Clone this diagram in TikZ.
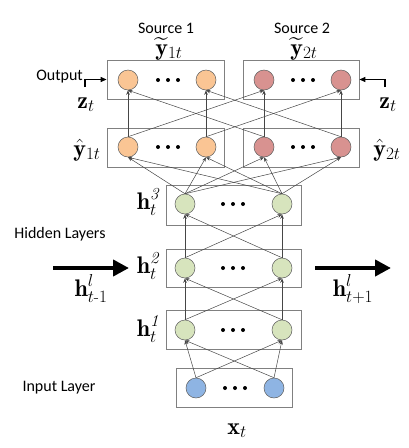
\documentclass[tikz,border=0pt]{standalone}
\usepackage{amsmath}
\usepackage{fontspec}
\newfontfamily\carl{Carlito}
\usetikzlibrary{arrows.meta}
\definecolor{boxgray}{RGB}{128,128,128}
\definecolor{cgray}{RGB}{95,95,95}
\definecolor{lgray}{RGB}{70,70,70}
\definecolor{corange}{RGB}{250,197,148}
\definecolor{cred}{RGB}{216,146,144}
\definecolor{cgreen}{RGB}{215,228,189}
\definecolor{cblue}{RGB}{142,180,227}
\begin{document}
\begin{tikzpicture}[x=1pt,y=-1pt,
  lbox/.style={draw=boxgray, line width=0.8pt, inner sep=0pt},
  neuron/.style={circle, draw=cgray, line width=0.5pt, minimum size=20pt, inner sep=0pt},
  orn/.style={neuron, fill=corange},
  rdn/.style={neuron, fill=cred},
  grn/.style={neuron, fill=cgreen},
  bln/.style={neuron, fill=cblue},
  conn/.style={draw=lgray, line width=0.5pt, -{Stealth[length=4.5pt,width=3.5pt]}},
  lab/.style={font=\carl\fontsize{16}{19}\selectfont, inner sep=0pt},
  mlab/.style={font=\fontsize{24}{28}\selectfont, inner sep=0pt},
  bigarrow/.style={line width=4pt, -{Triangle[length=16pt,width=16pt]}},
  elbow/.style={line width=1.1pt, -{Triangle[length=6pt,width=5pt]}},
  dot/.style={fill=black}]
\useasboundingbox (0,0) rectangle (408,448);

% boxes
\node[lbox, minimum width=117pt, minimum height=39pt] (B1) at (165.5,79.5) {};
\node[lbox, minimum width=116pt, minimum height=39pt] (B2) at (301,79.5) {};
\node[lbox, minimum width=117pt, minimum height=39pt] (C1) at (165.5,147.5) {};
\node[lbox, minimum width=116pt, minimum height=39pt] (C2) at (301,147.5) {};
\node[lbox, minimum width=135pt, minimum height=40pt] (H3) at (233.5,205) {};
\node[lbox, minimum width=135pt, minimum height=38pt] (H2) at (233.5,268) {};
\node[lbox, minimum width=135pt, minimum height=39pt] (H1) at (233.5,329.5) {};
\node[lbox, minimum width=116pt, minimum height=39pt] (IN) at (234,387.5) {};

% neurons
\node[orn] (o1) at (128,80) {};
\node[orn] (o2) at (206,80) {};
\node[rdn] (o3) at (264,80) {};
\node[rdn] (o4) at (341,80) {};
\node[orn] (y1) at (128,147) {};
\node[orn] (y2) at (206,147) {};
\node[rdn] (y3) at (264,147) {};
\node[rdn] (y4) at (341,147) {};
\node[grn] (c1) at (185,204) {};
\node[grn] (c2) at (282,204) {};
\node[grn] (b1) at (185,268) {};
\node[grn] (b2) at (282,268) {};
\node[grn] (a1) at (185,330) {};
\node[grn] (a2) at (282,330) {};
\node[bln] (i1) at (196,388) {};
\node[bln] (i2) at (274,388) {};

% ellipses
\foreach \x/\y in {168/80, 303/80, 168/147, 303/147, 233/204, 233/268, 233/330, 235/388}{
  \fill[dot] (\x-10,\y) circle[radius=2pt];
  \fill[dot] (\x,\y) circle[radius=2pt];
  \fill[dot] (\x+10,\y) circle[radius=2pt];
}

% connections
\foreach \s/\t in {y1/o1, y1/o3, y2/o2, y2/o4, y3/o3, y3/o1, y4/o4, y4/o2,
                   c1/y1, c1/y2, c1/y3, c1/y4, c2/y1, c2/y2, c2/y3, c2/y4,
                   b1/c1, b1/c2, b2/c1, b2/c2,
                   a1/b1, a1/b2, a2/b1, a2/b2,
                   i1/a1, i1/a2, i2/a1, i2/a2}{
  \draw[conn] (\s.north) -- (\t.south);
}

% top labels
\node[lab] (s1) at (166,28) {Source 1};
\node[lab] (s2) at (302,28) {Source 2};
\node[mlab, anchor=base] (yt1) at (169,55) {$\widetilde{\mathbf{y}}_{1t}$};
\node[mlab, anchor=base] (yt2) at (304,55) {$\widetilde{\mathbf{y}}_{2t}$};

% output arrows
\node[lab, anchor=east] (outl) at (83,77) {Output};
\coordinate (el) at (85,87);
\coordinate (er) at (385,87);
\draw[elbow] (el) |- (B1.west);
\draw[elbow] (er) |- (B2.east);
\node[mlab, anchor=base] (zl) at (86,108) {$\mathbf{z}_t$};
\node[mlab, anchor=base] (zr) at (388,108) {$\mathbf{z}_t$};

% side math labels
\node[mlab, anchor=base] (yh1) at (87,156) {$\hat{\mathbf{y}}_{1t}$};
\node[mlab, anchor=base] (yh2) at (387,156) {$\hat{\mathbf{y}}_{2t}$};
\node[mlab, anchor=base] (lh3) at (148,209) {$\mathbf{h}_t^{\mathit{3}}$};
\node[mlab, anchor=base] (lh2) at (148,273) {$\mathbf{h}_t^{\mathit{2}}$};
\node[mlab, anchor=base] (lh1) at (148,336) {$\mathbf{h}_t^{\mathit{1}}$};
\node[mlab, anchor=base] (xt) at (237,434) {$\mathbf{x}_t$};

% left texts
\node[lab] (hid) at (60,234) {Hidden Layers};
\node[lab] (inp) at (59,388) {Input Layer};

% recurrent arrows
\coordinate (la) at (53,268);
\coordinate (lb) at (129,268);
\coordinate (ra) at (315,268);
\coordinate (rb) at (391,268);
\draw[bigarrow] (la) -- (lb);
\draw[bigarrow] (ra) -- (rb);
\node[mlab, anchor=base] (hm) at (91,296) {$\mathbf{h}^{l}_{t\text{-}1}$};
\node[mlab, anchor=base] (hp) at (353,296) {$\mathbf{h}^{l}_{t+1}$};
\end{tikzpicture}
\end{document}
